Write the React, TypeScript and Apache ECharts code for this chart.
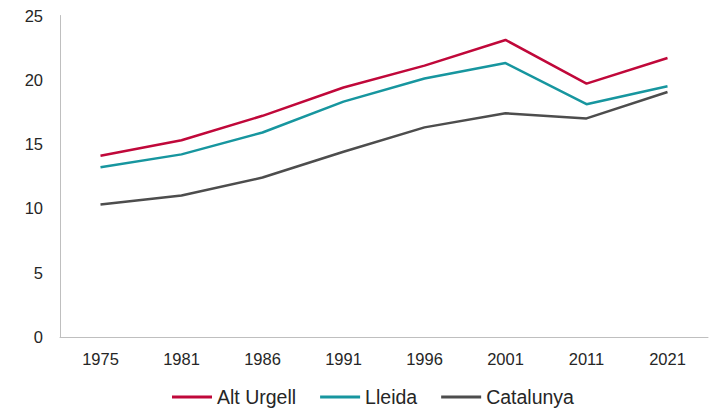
import React, { useEffect, useRef } from "react";
import * as echarts from "echarts";

const categories = ["1975", "1981", "1986", "1991", "1996", "2001", "2011", "2021"];
const altUrgell = [14.1, 15.3, 17.2, 19.4, 21.1, 23.1, 19.7, 21.7];
const lleida = [13.2, 14.2, 15.9, 18.3, 20.1, 21.3, 18.1, 19.5];
const catalunya = [10.3, 11.0, 12.4, 14.4, 16.3, 17.4, 17.0, 19.05];

export default function App() {
  const ref = useRef<HTMLDivElement>(null);
  useEffect(() => {
    if (!ref.current) return;
    const chart = echarts.init(ref.current, undefined, { renderer: "svg" });
    const font = "'Liberation Sans', Arial, sans-serif";
    const mk = (name: string, data: number[], color: string) => ({
      name,
      type: "line",
      data,
      symbol: "none",
      lineStyle: { color, width: 2.5 },
      itemStyle: { color },
    });
    chart.setOption({
      animation: false,
      grid: { left: 60, right: 2, top: 15.5, bottom: 77, containLabel: false },
      legend: {
        top: 387,
        left: 172,
        itemWidth: 40,
        itemHeight: 3,
        itemGap: 24,
        icon: "rect",
        padding: 0,
        textStyle: { fontFamily: font, fontSize: 19.5, color: "#262626" },
        data: ["Alt Urgell", "Lleida", "Catalunya"],
      },
      xAxis: {
        type: "category",
        data: categories,
        boundaryGap: true,
        axisLine: { lineStyle: { color: "#bfbfbf", width: 1 } },
        axisTick: { show: false },
        axisLabel: { fontFamily: font, fontSize: 16.5, color: "#262626", margin: 13 },
      },
      yAxis: {
        type: "value",
        min: 0,
        max: 25,
        interval: 5,
        axisLine: { show: true, lineStyle: { color: "#bfbfbf", width: 1 } },
        axisTick: { show: false },
        splitLine: { show: false },
        axisLabel: { fontFamily: font, fontSize: 16.5, color: "#262626", margin: 17 },
      },
      series: [
        mk("Alt Urgell", altUrgell, "#c0083a"),
        mk("Lleida", lleida, "#17969f"),
        mk("Catalunya", catalunya, "#4d4d4d"),
      ],
    });
    return () => chart.dispose();
  }, []);
  return <div ref={ref} style={{ width: 710, height: 414, position: "absolute", left: 0, top: 0 }} />;
}
